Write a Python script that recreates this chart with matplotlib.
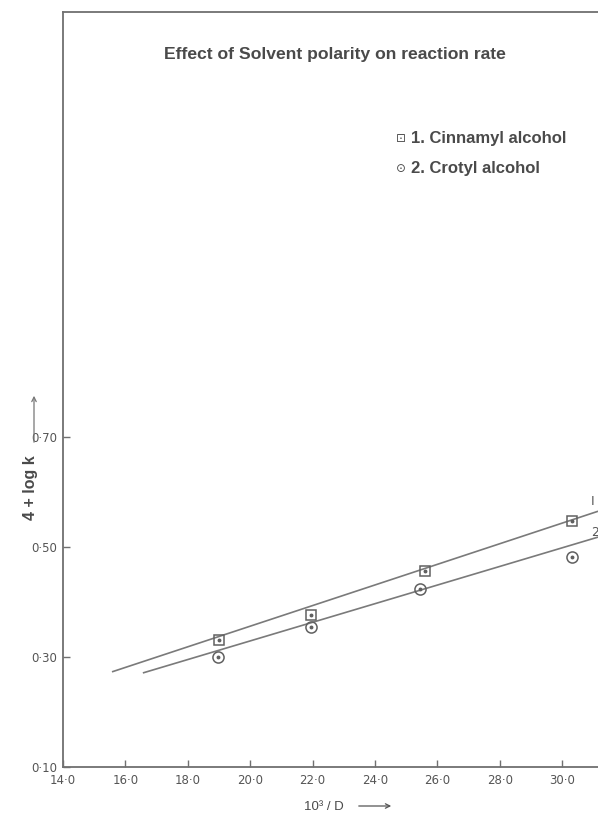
import matplotlib
matplotlib.use("Agg")
import matplotlib.pyplot as plt
from matplotlib.patches import FancyArrowPatch

# ---- data ----
cinn_x = [19.0, 21.95, 25.6, 30.3]
cinn_y = [0.331, 0.376, 0.456, 0.547]
crot_x = [18.97, 21.95, 25.45, 30.3]
crot_y = [0.300, 0.355, 0.424, 0.482]

# hand-drawn best-fit lines (end points)
line1_x = [15.57, 31.15]
line1_y = [0.273, 0.565]
line2_x = [16.56, 31.15]
line2_y = [0.271, 0.518]

xticks = [14, 16, 18, 20, 22, 24, 26, 28, 30]
xticklabels = ["14·0", "16·0", "18·0", "20·0", "22·0", "24·0", "26·0", "28·0", "30·0"]
yticks = [0.10, 0.30, 0.50, 0.70]
yticklabels = ["0·10", "0·30", "0·50", "0·70"]

title = "Effect of Solvent polarity on reaction rate"
legend1 = "1. Cinnamyl alcohol"
legend2 = "2. Crotyl alcohol"

W, H = 598, 815
fig = plt.figure(figsize=(W / 100, H / 100), dpi=100)
fig.patch.set_facecolor("white")

left_px, right_px, top_px, bottom_px = 63, 598, 12, 767
ax = fig.add_axes([left_px / W, 1 - bottom_px / H, (right_px - left_px) / W, (bottom_px - top_px) / H])

px_per_x = 31.2
px_per_y = 550.0
ax.set_xlim(14, 14 + (right_px - left_px) / px_per_x)
ax.set_ylim(0.10, 0.10 + (bottom_px - top_px) / px_per_y)

edge = "#707070"
txt = "#555555"
for s in ["left", "bottom", "top"]:
    ax.spines[s].set_color(edge)
    ax.spines[s].set_linewidth(1.3)
ax.spines["right"].set_visible(False)

ax.set_xticks(xticks)
ax.set_xticklabels(xticklabels)
ax.set_yticks(yticks)
ax.set_yticklabels(yticklabels)
ax.tick_params(direction="in", length=5, width=1, colors=edge, labelcolor=txt,
               labelsize=8.5, pad=4)
ax.tick_params(axis="x", pad=5)

lc = "#7a7a7a"
ax.plot(line1_x, line1_y, color=lc, lw=1.2, solid_capstyle="butt")
ax.plot(line2_x, line2_y, color=lc, lw=1.2, solid_capstyle="butt")

mc = "#606060"
ax.plot(cinn_x, cinn_y, ls="none", marker="s", ms=7, mfc="none", mec=mc, mew=1.1)
ax.plot(cinn_x, cinn_y, ls="none", marker="o", ms=1.8, mfc=mc, mec=mc)
ax.plot(crot_x, crot_y, ls="none", marker="o", ms=8, mfc="none", mec=mc, mew=1.1)
ax.plot(crot_x, crot_y, ls="none", marker="o", ms=1.8, mfc=mc, mec=mc)

ax.text(30.96, 0.582, "I", color=txt, fontsize=9, ha="center", va="center")
ax.text(31.05, 0.527, "2", color=txt, fontsize=9, ha="center", va="center")

fam = ["Liberation Sans", "DejaVu Sans"]
dark = "#4a4a4a"
fig.text(335 / W, 1 - 55 / H, title, ha="center", va="center", family=fam,
         weight="bold", fontsize=12.6, color=dark)
# legend
fig.text(401 / W, 1 - 139 / H, "⊡", ha="center", va="center", family=["DejaVu Sans"],
         fontsize=8.5, color=dark)
fig.text(411 / W, 1 - 139 / H, legend1, ha="left", va="center", family=fam,
         weight="bold", fontsize=12, color=dark)
fig.text(401 / W, 1 - 168 / H, "⊙", ha="center", va="center", family=["DejaVu Sans"],
         fontsize=8.5, color=dark)
fig.text(411 / W, 1 - 168 / H, legend2, ha="left", va="center", family=fam,
         weight="bold", fontsize=12, color=dark)

# axis labels
fig.text(31 / W, 1 - 488 / H, "4 + log k", rotation=90, ha="center", va="center",
         family=fam, weight="bold", fontsize=11.5, color=dark)
fig.patches.append(FancyArrowPatch(
    (34 / W, 1 - 445 / H), (34 / W, 1 - 393 / H), transform=fig.transFigure,
    arrowstyle="->", mutation_scale=8, color="#777777", lw=0.9))
fig.text(324 / W, 1 - 807 / H, "10³ / D", ha="center", va="center",
         family=fam, fontsize=9.5, color=dark)
fig.patches.append(FancyArrowPatch(
    (356 / W, 1 - 806 / H), (394 / W, 1 - 806 / H), transform=fig.transFigure,
    arrowstyle="->", mutation_scale=8, color="#555555", lw=0.9))

fig.savefig("out.png", dpi=100, facecolor="white")
